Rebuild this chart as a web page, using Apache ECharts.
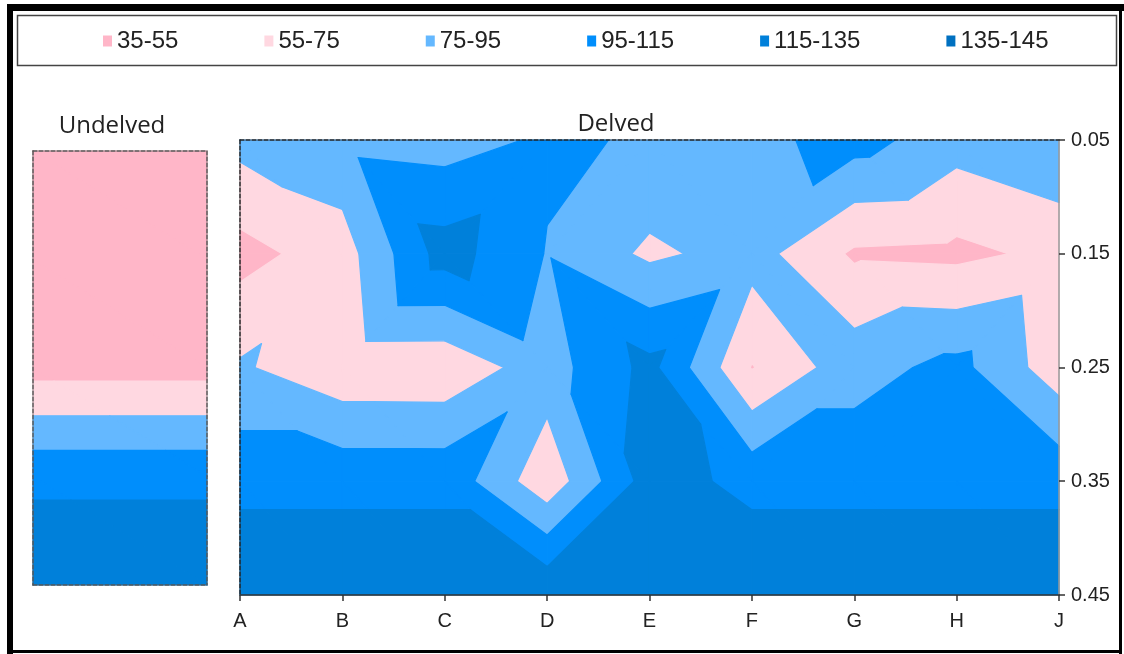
<!DOCTYPE html>
<html>
<head>
<meta charset="utf-8">
<script src="https://cdn.jsdelivr.net/npm/echarts@6/dist/echarts.min.js"></script>
<style>
  html, body { margin: 0; padding: 0; background: #fff; }
  #chart { width: 1124px; height: 654px; }
</style>
</head>
<body>
<div id="chart"></div>
<script>
// Sampling positions
const columns = ['A', 'B', 'C', 'D', 'E', 'F', 'G', 'H', 'J'];
const depths = [0.05, 0.15, 0.25, 0.35, 0.45];
const depthTicks = ['0.05', '0.15', '0.25', '0.35', '0.45'];

// Contour classes
const bandNames = ['35-55', '55-75', '75-95', '95-115', '115-135', '135-145'];
const bandLimits = [35, 55, 75, 95, 115, 135, 145];
const bandColors = ['#ffb6c8', '#ffd8e1', '#64b8ff', '#008efc', '#0080da', '#0070c0'];

// Delved readings, one row per depth, values for columns A..J
const delved005 = [81.6, 89.7, 86, 98, 93, 89, 103, 83, 93.3];
const delved015 = [47.6, 65.6, 124, 94, 71, 83, 52, 50, 60];
const delved025 = [77.5, 60.4, 60, 86, 121, 54, 87, 101, 63.6];
const delved035 = [109, 109, 109, 61, 124.5, 109, 109, 109, 109];
const delved045 = [133, 133, 133, 133, 133, 133, 133, 133, 133];

// Undelved profile, one value per depth
const undelved = [45, 46, 47.5, 110, 133];

// Mesh triangulation of the delved grid: per cell (depth row x column gap),
// 1 = split from upper-left to lower-right corner, 0 = upper-right to lower-left
const delvedSplit = [
  [1, 1, 0, 0, 1, 0, 1, 1],
  [0, 0, 1, 1, 0, 1, 1, 0],
  [1, 1, 0, 1, 1, 0, 0, 1],
  [1, 1, 1, 0, 1, 1, 1, 1]
];

// Clip a triangle/polygon (vertices carry a value v) against a value threshold
function clipPolygon(pts, thr, keepAbove) {
  const out = [];
  const n = pts.length;
  for (let k = 0; k < n; k++) {
    const a = pts[k], b = pts[(k + 1) % n];
    const ina = keepAbove ? a.v >= thr : a.v <= thr;
    const inb = keepAbove ? b.v >= thr : b.v <= thr;
    if (ina) out.push(a);
    if (ina !== inb) {
      const t = (thr - a.v) / (b.v - a.v);
      out.push({ x: a.x + t * (b.x - a.x), y: a.y + t * (b.y - a.y), v: thr });
    }
  }
  return out;
}

// Filled contour bands from a value grid using linear interpolation on triangles
function bandPolygons(xs, ys, values, split) {
  const result = bandNames.map(() => []);
  for (let j = 0; j < ys.length - 1; j++) {
    for (let i = 0; i < xs.length - 1; i++) {
      const P = (ii, jj) => ({ x: xs[ii], y: ys[jj], v: values[jj][ii] });
      const tl = P(i, j), tr = P(i + 1, j), bl = P(i, j + 1), br = P(i + 1, j + 1);
      const tris = split[j][i] ? [[tl, tr, br], [tl, br, bl]] : [[tl, tr, bl], [tr, br, bl]];
      tris.forEach(tri => {
        for (let b = 0; b < bandNames.length; b++) {
          let poly = clipPolygon(tri, bandLimits[b], true);
          if (poly.length < 3) continue;
          poly = clipPolygon(poly, bandLimits[b + 1], false);
          if (poly.length < 3) continue;
          result[b].push(poly.map(p => [p.x, p.y]));
        }
      });
    }
  }
  return result;
}

const delvedGrid = [delved005, delved015, delved025, delved035, delved045];
const delvedPolys = bandPolygons(columns.map((c, i) => i), depths, delvedGrid, delvedSplit);

// The undelved profile spans the whole width of its panel
const undelvedGrid = undelved.map(v => [v, v]);
const undelvedSplit = depths.slice(1).map(() => [1]);
const undelvedPolys = bandPolygons([0, 1], depths, undelvedGrid, undelvedSplit);

function contourSeries(polys, axisIndex) {
  return bandNames.map((name, b) => ({
    type: 'custom',
    name: name,
    coordinateSystem: 'cartesian2d',
    xAxisIndex: axisIndex,
    yAxisIndex: axisIndex,
    itemStyle: { color: bandColors[b] },
    data: polys[b].map(p => [p[0][0], p[0][1]]),
    encode: { x: 0, y: 1 },
    silent: true,
    animation: false,
    renderItem: (params, api) => {
      const poly = polys[b][params.dataIndex];
      return {
        type: 'polygon',
        shape: { points: poly.map(pt => api.coord(pt)) },
        style: { fill: bandColors[b], stroke: bandColors[b], lineWidth: 1.2, lineJoin: 'round' }
      };
    }
  }));
}

const dashedDark = { show: true, onZero: false, lineStyle: { color: '#222', width: 1.5, type: [4, 2] } };
const dashedGray = { show: true, onZero: false, lineStyle: { color: '#555', width: 1.5, type: [4, 2] } };
const hiddenParts = { axisTick: { show: false }, axisLabel: { show: false }, splitLine: { show: false } };
const labelFont = { fontSize: 20, color: '#222', fontFamily: 'Liberation Sans' };

const chart = echarts.init(document.getElementById('chart'), null, { renderer: 'canvas' });
chart.setOption({
  animation: false,
  backgroundColor: '#fff',
  title: [
    { text: 'Undelved', left: 112, top: 114, textAlign: 'center', padding: 0,
      textStyle: { fontFamily: 'Open Sans', fontWeight: 'normal', fontSize: 24, color: '#222' } },
    { text: 'Delved', left: 616, top: 112, textAlign: 'center', padding: 0,
      textStyle: { fontFamily: 'Open Sans', fontWeight: 'normal', fontSize: 24, color: '#222' } }
  ],
  legend: {
    data: bandNames,
    left: 103, top: 29, padding: 0,
    icon: 'rect', itemWidth: 9, itemHeight: 11, itemGap: 86,
    selectedMode: false,
    textStyle: { fontSize: 24, fontFamily: 'Liberation Sans', color: '#222' }
  },
  grid: [
    { left: 240, top: 140, width: 819, height: 455 },
    { left: 33, top: 151, width: 174, height: 434 }
  ],
  xAxis: [
    { gridIndex: 0, type: 'value', min: 0, max: columns.length - 1, interval: 1, position: 'bottom', z: 5,
      axisLine: { show: true, onZero: false, lineStyle: { color: '#333', width: 1.5 } },
      axisTick: { show: true, length: 6, lineStyle: { color: '#333', width: 1.5 } },
      axisLabel: Object.assign({ margin: 16, formatter: v => columns[v] || '' }, labelFont),
      splitLine: { show: false } },
    Object.assign({ gridIndex: 0, type: 'value', min: 0, max: columns.length - 1, position: 'top', z: 5,
      axisLine: dashedDark }, hiddenParts),
    Object.assign({ gridIndex: 1, type: 'value', min: 0, max: 1, position: 'bottom', z: 5,
      axisLine: dashedGray }, hiddenParts),
    Object.assign({ gridIndex: 1, type: 'value', min: 0, max: 1, position: 'top', z: 5,
      axisLine: dashedGray }, hiddenParts)
  ],
  yAxis: [
    { gridIndex: 0, type: 'value', inverse: true, min: depths[0], max: depths[depths.length - 1], interval: 0.1,
      position: 'right', z: 5,
      axisLine: { show: true, onZero: false, lineStyle: { color: '#999', width: 1.5 } },
      axisTick: { show: true, length: 6, lineStyle: { color: '#333', width: 1.5 } },
      axisLabel: Object.assign({ margin: 12, formatter: v => {
        const k = depths.findIndex(d => Math.abs(d - v) < 1e-6);
        return k >= 0 ? depthTicks[k] : '';
      } }, labelFont),
      splitLine: { show: false } },
    Object.assign({ gridIndex: 0, type: 'value', inverse: true, min: depths[0], max: depths[depths.length - 1],
      position: 'left', z: 5, axisLine: dashedDark }, hiddenParts),
    Object.assign({ gridIndex: 1, type: 'value', inverse: true, min: depths[0], max: depths[depths.length - 1],
      position: 'left', z: 5, axisLine: dashedGray }, hiddenParts),
    Object.assign({ gridIndex: 1, type: 'value', inverse: true, min: depths[0], max: depths[depths.length - 1],
      position: 'right', z: 5, axisLine: dashedGray }, hiddenParts)
  ],
  graphic: [
    // outer frame
    { type: 'rect', shape: { x: 7, y: 4, width: 1117, height: 7 }, style: { fill: '#000' }, silent: true },
    { type: 'rect', shape: { x: 7, y: 4, width: 6, height: 650 }, style: { fill: '#000' }, silent: true },
    { type: 'rect', shape: { x: 1119, y: 4, width: 3, height: 650 }, style: { fill: '#000' }, silent: true },
    { type: 'rect', shape: { x: 7, y: 650, width: 1115, height: 3 }, style: { fill: '#000' }, silent: true },
    // legend box
    { type: 'rect', shape: { x: 17.5, y: 15.5, width: 1099, height: 50 },
      style: { fill: 'none', stroke: '#444', lineWidth: 1.5 }, silent: true }
  ],
  series: contourSeries(delvedPolys, 0).concat(contourSeries(undelvedPolys, 1).map(s => {
    s.xAxisIndex = 2; s.yAxisIndex = 2; return s;
  }))
});
</script>
</body>
</html>
